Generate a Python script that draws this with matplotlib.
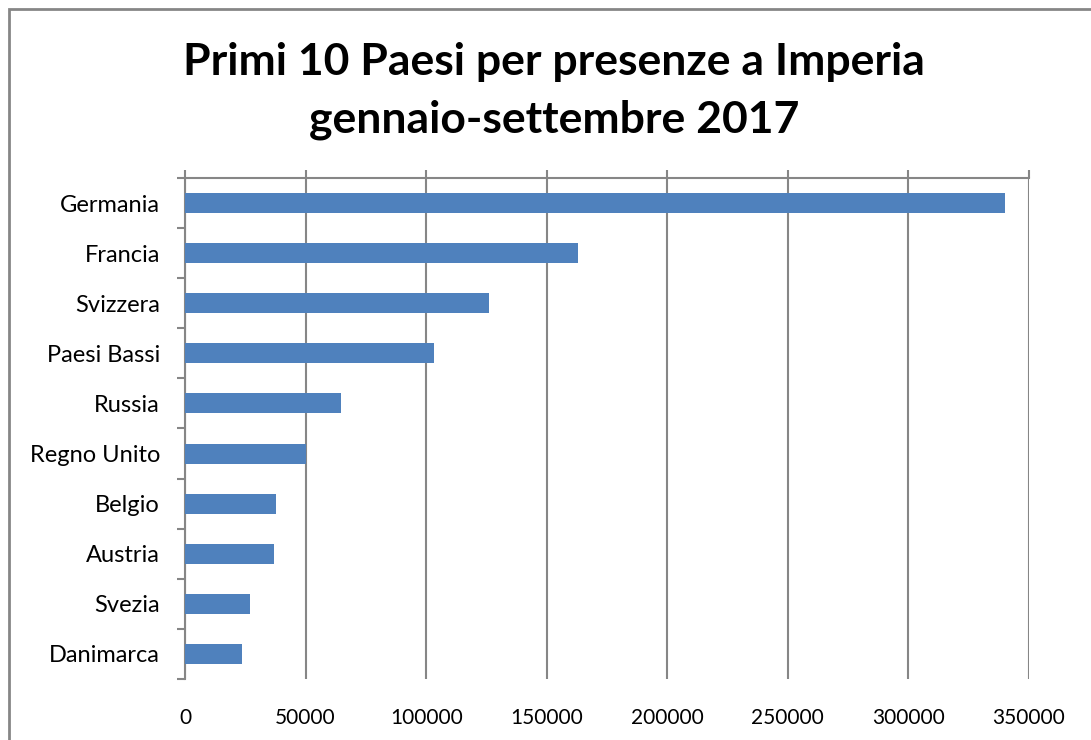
import matplotlib.pyplot as plt
import matplotlib.patches as patches
import numpy as np

paesi = ['Germania', 'Francia', 'Svizzera', 'Paesi Bassi', 'Russia',
         'Regno Unito', 'Belgio', 'Austria', 'Svezia', 'Danimarca']
presenze = [339900, 163000, 126100, 103200, 64700,
            50100, 37900, 36900, 27000, 23500]
x_ticks = [0, 50000, 100000, 150000, 200000, 250000, 300000, 350000]

plt.rcParams['font.family'] = ['Lato', 'DejaVu Sans']
grey = '#868686'

fig = plt.figure(figsize=(10.91, 7.40), dpi=100)
ax = fig.add_axes([185 / 1091, 1 - 679 / 740, (1029 - 185) / 1091, (679 - 178) / 740])

y = np.arange(len(paesi))
ax.barh(y, presenze, height=0.4, color='#4F81BD', zorder=3)

ax.set_xlim(0, 350000)
ax.set_ylim(len(paesi) - 0.5, -0.5)

# vertical gridlines, ticks outward on the top axis line
ax.set_xticks(x_ticks)
ax.set_xticklabels([str(v) for v in x_ticks], fontsize=15)
ax.grid(axis='x', color=grey, linewidth=1.5, zorder=1)
ax.tick_params(axis='x', top=True, bottom=False, labeltop=False, labelbottom=True,
               direction='out', length=6, width=1.5, color=grey, pad=15)

# category boundaries as ticks, names at centers
ax.set_yticks(np.arange(-0.5, len(paesi), 1.0))
ax.set_yticklabels([])
ax.set_yticks(y, minor=True)
ax.set_yticklabels(paesi, minor=True, fontsize=17)
ax.tick_params(axis='y', which='minor', length=0, pad=18)
ax.tick_params(axis='y', which='major', direction='out', length=6, width=1.5, color=grey)

for s in ['bottom', 'right']:
    ax.spines[s].set_visible(False)
for s in ['top', 'left']:
    ax.spines[s].set_color(grey)
    ax.spines[s].set_linewidth(1.5)

fig.text(554 / 1091, 1 - 91 / 740, 'Primi 10 Paesi per presenze a Imperia\ngennaio-settembre 2017',
         ha='center', va='center', fontsize=32, fontweight='bold', linespacing=1.5)

# chart area border (clipped by the image edge)
fig.patches.append(patches.Rectangle((8.5 / 1091, -0.1), 1.2, 1 - 8.5 / 740 + 0.1,
                                     transform=fig.transFigure, fill=False,
                                     edgecolor=grey, linewidth=2))

fig.savefig('out.png', dpi=100)
